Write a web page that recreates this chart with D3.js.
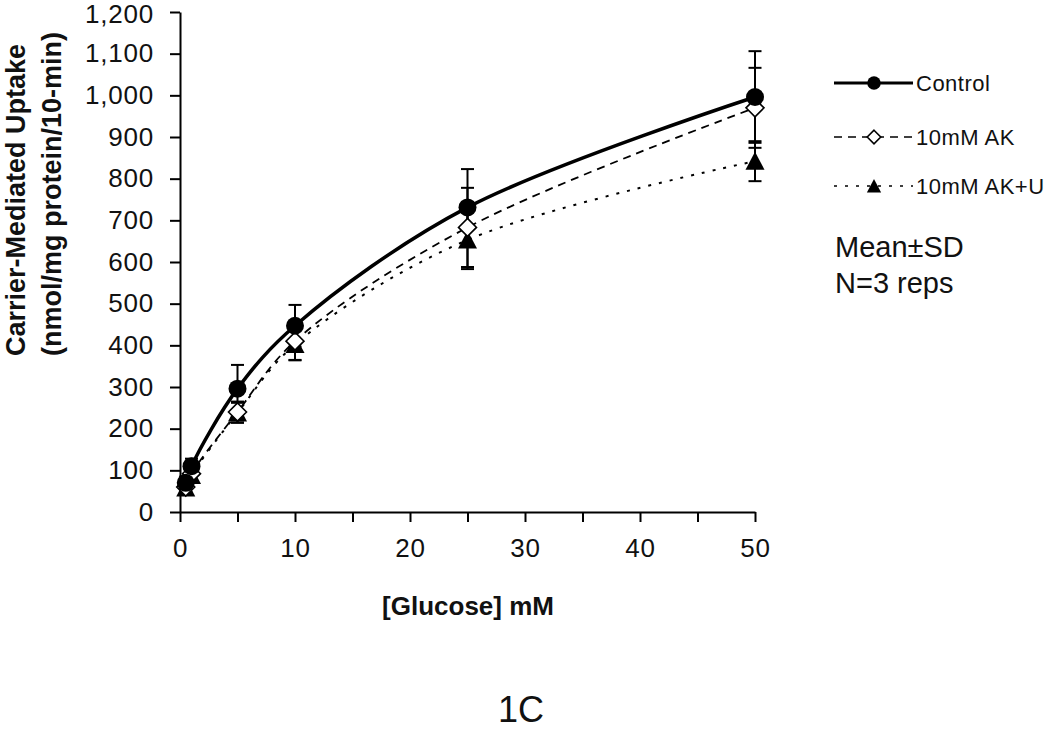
<!DOCTYPE html>
<html><head><meta charset="utf-8">
<script src="https://cdn.jsdelivr.net/npm/d3@7"></script>
<style>
body{margin:0;background:#fff;}
svg text{font-family:"Liberation Sans",Arial,sans-serif;fill:#111;}
</style></head>
<body>
<svg id="c" width="1050" height="732"></svg>
<script>
const glucose = [0.5, 1, 5, 10, 25, 50];
const controlMean = [70, 110, 296, 447, 731, 996];
const controlSD = [15, 18, 57, 50, 92, 110];
const akMean = [60, 92, 240, 410, 683, 970];
const akSD = [12, 15, 25, 45, 95, 96];
const akuMean = [58, 88, 238, 402, 653, 842];
const akuSD = [12, 15, 24, 38, 70, 48];
const xTicks = d3.range(0, 51, 5);
const yTicks = d3.range(0, 1201, 100);
const seriesNames = ["Control", "10mM AK", "10mM AK+U"];

const series = [
  {name: seriesNames[0], mean: controlMean, sd: controlSD, marker: "circle", dash: null, width: 3.5},
  {name: seriesNames[1], mean: akMean, sd: akSD, marker: "diamond", dash: "8,6", width: 1.8},
  {name: seriesNames[2], mean: akuMean, sd: akuSD, marker: "triangle", dash: "3,8", width: 2}
];

const svg = d3.select("#c");
const x = d3.scaleLinear().domain([0, 50]).range([180, 755]);
const y = d3.scaleLinear().domain([0, 1200]).range([512, 12]);

// axes
const xAxis = svg.append("g").attr("transform", "translate(0,512)")
  .call(d3.axisBottom(x).tickValues(xTicks).tickSize(10).tickSizeOuter(0).tickPadding(17)
    .tickFormat(d => d % 10 === 0 ? d : ""));
const yAxis = svg.append("g").attr("transform", "translate(180,0)")
  .call(d3.axisLeft(y).tickValues(yTicks).tickSize(10).tickSizeOuter(0).tickPadding(16)
    .tickFormat(d3.format(",")));
[xAxis, yAxis].forEach(a => {
  a.selectAll("path,line").attr("stroke", "#000").attr("stroke-width", 2);
  a.selectAll("text").attr("font-size", 26).attr("letter-spacing", "0.8px")
    .attr("font-family", "Liberation Sans, Arial, sans-serif").attr("fill", "#111");
});
yAxis.selectAll(".tick text").filter(d => d === 1200).attr("dy", "0.42em");

// axis titles
svg.append("text").attr("transform", "translate(468,615)").attr("text-anchor", "middle")
  .attr("font-size", 26).attr("font-weight", "bold").text("[Glucose] mM");
svg.append("text").attr("transform", "translate(25,200) rotate(-90)").attr("text-anchor", "middle")
  .attr("font-size", 27).attr("font-weight", "bold").text("Carrier-Mediated Uptake");
svg.append("text").attr("transform", "translate(61,194) rotate(-90)").attr("text-anchor", "middle")
  .attr("font-size", 27).attr("font-weight", "bold").text("(nmol/mg protein/10-min)");

// lines
const line = d3.line().curve(d3.curveCatmullRom.alpha(0.5));
series.forEach(s => {
  const pts = glucose.map((g, i) => [x(g), y(s.mean[i])]);
  svg.append("path").attr("d", line(pts)).attr("fill", "none").attr("stroke", "#000")
    .attr("stroke-width", s.width).attr("stroke-dasharray", s.dash);
});

// error bars
series.forEach(s => {
  glucose.forEach((g, i) => {
    const cx = x(g), top = y(s.mean[i] + s.sd[i]), bot = y(s.mean[i] - s.sd[i]);
    const g2 = svg.append("g").attr("stroke", "#000").attr("stroke-width", 2);
    g2.append("line").attr("x1", cx).attr("x2", cx).attr("y1", top).attr("y2", bot);
    g2.append("line").attr("x1", cx - 6.5).attr("x2", cx + 6.5).attr("y1", top).attr("y2", top);
    g2.append("line").attr("x1", cx - 6.5).attr("x2", cx + 6.5).attr("y1", bot).attr("y2", bot);
  });
});

function drawMarker(sel, type, cx, cy, scale) {
  if (type === "circle") {
    sel.append("circle").attr("cx", cx).attr("cy", cy).attr("r", 9 * scale).attr("fill", "#000");
  } else if (type === "diamond") {
    const r = 9 * scale;
    sel.append("path").attr("d", `M${cx},${cy - r}L${cx + r},${cy}L${cx},${cy + r}L${cx - r},${cy}Z`)
      .attr("fill", "#fff").attr("stroke", "#000").attr("stroke-width", 1.6);
  } else {
    const r = 9.5 * scale;
    sel.append("path").attr("d", `M${cx},${cy - r}L${cx + r},${cy + r * 0.9}L${cx - r},${cy + r * 0.9}Z`)
      .attr("fill", "#000");
  }
}

// markers (draw last series first so Control on top)
[...series].reverse().forEach(s => {
  glucose.forEach((g, i) => drawMarker(svg, s.marker, x(g), y(s.mean[i]), 1));
});

// legend
const legY = [83, 137, 186];
series.forEach((s, i) => {
  svg.append("line").attr("x1", 834).attr("x2", 913).attr("y1", legY[i]).attr("y2", legY[i])
    .attr("stroke", "#000").attr("stroke-width", i === 0 ? 3 : 1.6).attr("stroke-dasharray", s.dash);
  drawMarker(svg, s.marker, 874, legY[i], 0.75);
  svg.append("text").attr("x", 916).attr("y", legY[i]).attr("dy", "0.35em")
    .attr("font-size", 22).attr("letter-spacing", "0.5px").text(s.name);
});
svg.append("text").attr("x", 835).attr("y", 257).attr("font-size", 29).text("Mean±SD");
svg.append("text").attr("x", 835).attr("y", 293).attr("font-size", 29).text("N=3 reps");

// panel label
svg.append("text").attr("x", 521).attr("y", 722).attr("text-anchor", "middle")
  .attr("font-size", 36).text("1C");
</script>
</body></html>
